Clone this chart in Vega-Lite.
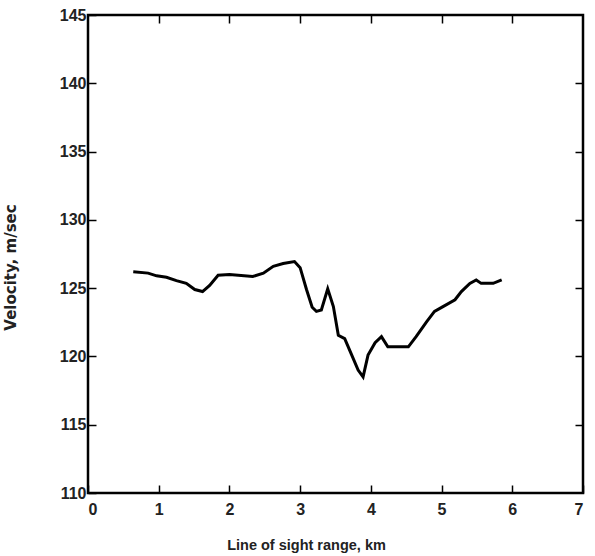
{
  "$schema": "https://vega.github.io/schema/vega-lite/v6.json",
  "width": 495,
  "height": 478,
  "autosize": {"type": "none"},
  "padding": {"left": 88, "top": 15, "right": 12, "bottom": 63},
  "background": "white",
  "config": {
    "view": {"stroke": "black", "strokeWidth": 2.5},
    "axis": {
      "labelFont": "Liberation Sans",
      "titleFont": "Liberation Sans",
      "labelFontSize": 16,
      "titleFontSize": 14.5,
      "labelFontWeight": "bold",
      "titleFontWeight": "bold",
      "labelColor": "#222",
      "titleColor": "#222",
      "grid": false,
      "domain": false,
      "tickColor": "black",
      "tickWidth": 1.5,
      "tickSize": -8
    }
  },
  "data": {
    "values": [
      {"range": 0.64, "velocity": 126.2},
      {"range": 0.85, "velocity": 126.1},
      {"range": 0.97, "velocity": 125.9},
      {"range": 1.11, "velocity": 125.8},
      {"range": 1.25, "velocity": 125.55},
      {"range": 1.39, "velocity": 125.35},
      {"range": 1.51, "velocity": 124.9},
      {"range": 1.62, "velocity": 124.75},
      {"range": 1.72, "velocity": 125.2},
      {"range": 1.84, "velocity": 125.95},
      {"range": 2.0, "velocity": 126.0},
      {"range": 2.33, "velocity": 125.85},
      {"range": 2.48, "velocity": 126.1},
      {"range": 2.62, "velocity": 126.6},
      {"range": 2.76, "velocity": 126.8},
      {"range": 2.92, "velocity": 126.95},
      {"range": 3.0, "velocity": 126.5},
      {"range": 3.09, "velocity": 124.9},
      {"range": 3.17, "velocity": 123.6},
      {"range": 3.23, "velocity": 123.3},
      {"range": 3.3, "velocity": 123.4},
      {"range": 3.39, "velocity": 124.95},
      {"range": 3.47, "velocity": 123.65},
      {"range": 3.54, "velocity": 121.55},
      {"range": 3.63, "velocity": 121.3},
      {"range": 3.73, "velocity": 120.1},
      {"range": 3.82, "velocity": 119.0},
      {"range": 3.89, "velocity": 118.5},
      {"range": 3.96, "velocity": 120.1},
      {"range": 4.06, "velocity": 121.0},
      {"range": 4.15, "velocity": 121.45},
      {"range": 4.24, "velocity": 120.7},
      {"range": 4.53, "velocity": 120.7},
      {"range": 4.64, "velocity": 121.45},
      {"range": 4.79, "velocity": 122.55},
      {"range": 4.9, "velocity": 123.3},
      {"range": 5.02, "velocity": 123.65},
      {"range": 5.19, "velocity": 124.15},
      {"range": 5.28, "velocity": 124.75},
      {"range": 5.4, "velocity": 125.35},
      {"range": 5.49, "velocity": 125.6},
      {"range": 5.56, "velocity": 125.35},
      {"range": 5.73, "velocity": 125.35},
      {"range": 5.85, "velocity": 125.6}
    ]
  },
  "layer": [
    {
      "mark": {"type": "line", "color": "black", "strokeWidth": 3},
      "encoding": {
        "x": {
          "field": "range",
          "type": "quantitative",
          "scale": {"domain": [0, 7], "nice": false},
          "axis": {"values": [0, 1, 2, 3, 4, 5, 6, 7], "title": "Line of sight range, km", "labelPadding": 16, "titleX": 218, "titleY": 52, "titleBaseline": "middle", "titleAlign": "center"}
        },
        "y": {
          "field": "velocity",
          "type": "quantitative",
          "scale": {"domain": [110, 145], "nice": false, "zero": false},
          "axis": {"values": [110, 115, 120, 125, 130, 135, 140, 145], "title": "Velocity, m/sec", "titleFont": "DejaVu Sans", "titleFontSize": 15, "labelPadding": 10, "titleX": -78, "titleY": 252, "titleAngle": -90, "titleBaseline": "middle", "titleAlign": "center"}
        }
      }
    },
    {
      "mark": {"type": "line", "opacity": 0},
      "encoding": {
        "x": {"field": "range", "type": "quantitative", "axis": {"orient": "top", "values": [1, 2, 3, 4, 5, 6], "labels": false, "title": null}},
        "y": {"field": "velocity", "type": "quantitative", "axis": {"orient": "right", "values": [115, 120, 125, 130, 135, 140], "labels": false, "title": null}}
      }
    }
  ],
  "resolve": {"axis": {"x": "independent", "y": "independent"}}
}
